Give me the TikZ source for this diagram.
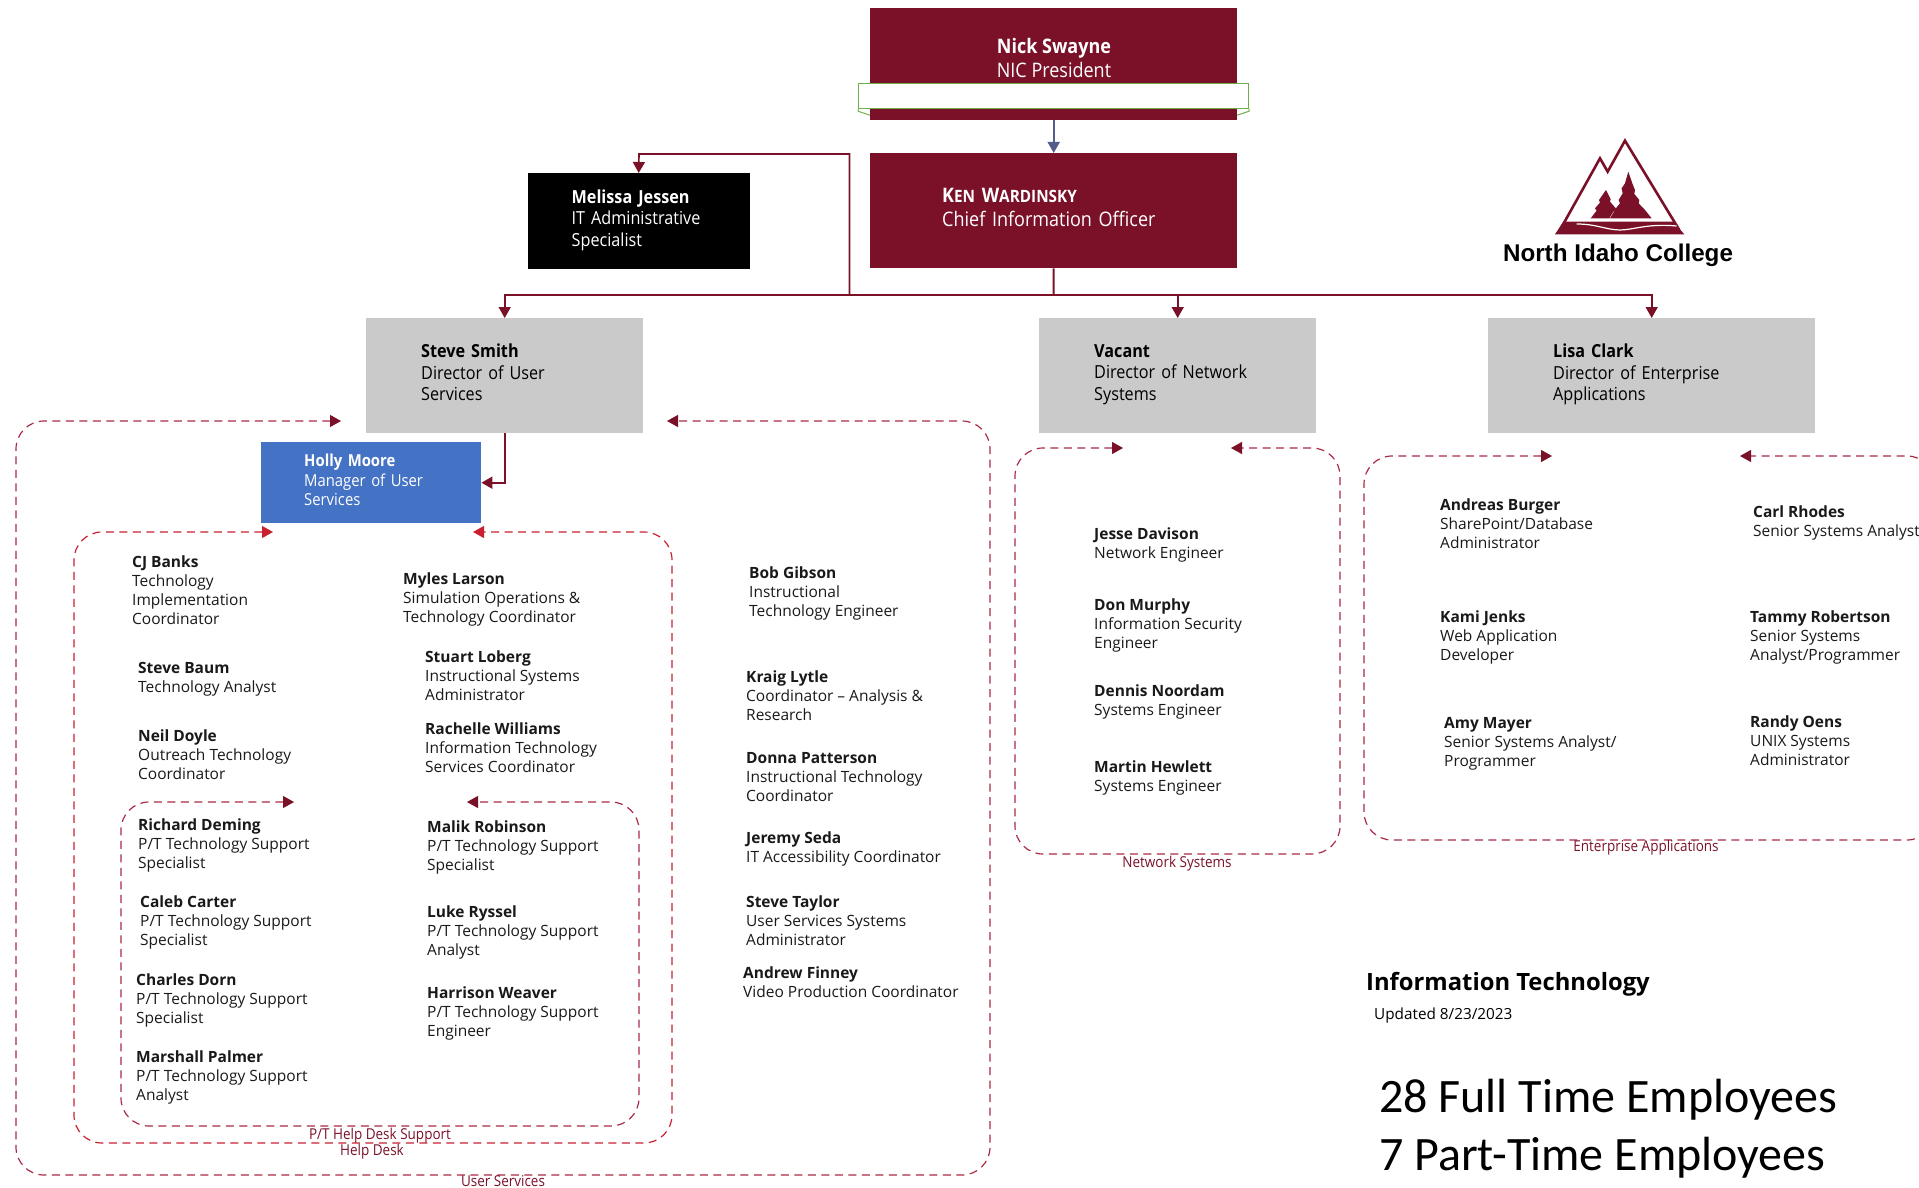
\documentclass[tikz,border=0pt]{standalone}
\usepackage{fontspec}
\setmainfont{Open Sans}
\newfontfamily\leadf{Open Sans}[FakeStretch=0.9]
\newfontfamily\carl{Carlito}
\newfontfamily\arl{Liberation Sans}
\usetikzlibrary{arrows.meta,calc}
\definecolor{nicred}{HTML}{7A1128}
\definecolor{greybox}{HTML}{CACACA}
\definecolor{hollyblue}{HTML}{4472C4}
\definecolor{ribbon}{HTML}{70AD47}
\definecolor{slate}{HTML}{545C8C}
\definecolor{dashA}{HTML}{A82A45}
\definecolor{dashB}{HTML}{C8202F}
\tikzset{
  x=1pt,y=-1pt,
  boxbase/.style={draw=none,minimum height=#1,inner ysep=0pt,align=left,anchor=north west},
  person/.style={anchor=north west,inner sep=0pt,align=left,text=black!90,font=\fontsize{15.5}{18.9}\selectfont},
  lead/.style={font=\leadf\fontsize{18}{21.5}\selectfont},
  top/.style={font=\leadf\fontsize{20}{24}\selectfont},
  conn/.style={draw=nicred,line width=1.6pt},
  tip/.style={-{Triangle[length=11pt,width=12pt]}},
  groupline/.style={line width=1.2pt,dash pattern=on 8pt off 5.5pt,rounded corners=28pt,
     {Triangle[length=11pt,width=12pt,color=#1]}-{Triangle[length=11pt,width=12pt,color=#1]}},
  grouplabel/.style={text=nicred,inner sep=0pt,font=\leadf\fontsize{15}{15}\selectfont},
}
\newcommand{\pp}[5]{\node[person] (#1) at (#2,#3-6) {\textbf{#4}\\#5};}
\begin{document}
\begin{tikzpicture}
\useasboundingbox (0,0) rectangle (1919,1188);
% top boxes
\node[boxbase=112pt,fill=nicred,minimum width=367pt,inner sep=0pt] (nick) at (870,8) {};
\node[draw=ribbon,line width=1.2pt,fill=white,minimum width=390pt,minimum height=25pt,inner sep=0pt,anchor=north west] (band) at (858,83) {};
\draw[ribbon,line width=1pt] (band.south west) -- ++(0,2) -- ++(12,4);
\draw[ribbon,line width=1pt] (band.south east) -- ++(0,2) -- ++(-12,4);
\node[text=white,top,align=left,inner sep=0pt] (nicktext) at (1054,58.5) {\textbf{Nick Swayne}\\NIC President};
\node[boxbase=115pt,fill=nicred,minimum width=367pt,inner xsep=72pt,text width=223pt,text=white,top] (ken) at (870,153)
  {\textbf{K{\fontsize{17}{24}\selectfont EN} W{\fontsize{17}{24}\selectfont ARDINSKY}}\\Chief Information Officer\strut};
\node[boxbase=96pt,fill=black,minimum width=222pt,inner xsep=44pt,text width=134pt,text=white,lead] (melissa) at (527.5,173)
  {\textbf{Melissa Jessen}\\IT Administrative\\Specialist\strut};
\node[boxbase=115pt,fill=greybox,minimum width=277pt,inner xsep=55pt,text width=167pt,lead] (steve) at (366,318)
  {\textbf{Steve Smith}\\Director of User\\Services\strut\\[-18pt]};
\node[boxbase=115pt,fill=greybox,minimum width=277pt,inner xsep=55pt,text width=167pt,lead] (vacant) at (1039,318)
  {\textbf{Vacant}\\Director of Network\\Systems\strut\\[-18pt]};
\node[boxbase=115pt,fill=greybox,minimum width=327pt,inner xsep=65pt,text width=197pt,lead] (lisa) at (1488,318)
  {\textbf{Lisa Clark}\\Director of Enterprise\\Applications\strut\\[-18pt]};
\node[boxbase=81pt,fill=hollyblue,minimum width=220pt,inner xsep=43pt,text width=134pt,text=white,font=\leadf\fontsize{16.5}{19.5}\selectfont] (holly) at (261,442)
  {\textbf{Holly Moore}\\Manager of User\\Services\strut\\[4pt]};
% connectors
\draw[slate,line width=1.6pt,tip] (nick.south) -- (ken.north);
\coordinate (bus) at (1053.5,295);
\coordinate (busm) at (849.5,295);
\draw[conn,line width=2pt] (ken.south) -- (bus);
\draw[conn,tip] (bus) -| (steve.north);
\draw[conn,tip] (bus) -| (vacant.north);
\draw[conn,tip] (bus) -| (lisa.north);
\draw[conn,tip] (busm) |- (639,154) -- (melissa.north);
\draw[conn,tip] (steve.south) |- (holly.east);
% dashed groups
\coordinate (usA) at (341,421); \coordinate (usB) at (667,421);
\draw[groupline=nicred,dashA] (usA) -- (16,421) -- (16,1175) -- (990,1175) -- (990,421) -- (usB);
\coordinate (hdA) at (273,532); \coordinate (hdB) at (473,532);
\draw[groupline=dashB,dashB] (hdA) -- (74,532) -- (74,1143) -- (672,1143) -- (672,532) -- (hdB);
\coordinate (ptA) at (294,802); \coordinate (ptB) at (467,802);
\draw[groupline=nicred,dashA] (ptA) -- (121,802) -- (121,1126) -- (639,1126) -- (639,802) -- (ptB);
\coordinate (nwA) at (1123,448); \coordinate (nwB) at (1231,448);
\draw[groupline=nicred,dashA] (nwA) -- (1015,448) -- (1015,854) -- (1340,854) -- (1340,448) -- (nwB);
\coordinate (eaA) at (1552,456); \coordinate (eaB) at (1740,456);
\draw[groupline=nicred,dashA] (eaA) -- (1364,456) -- (1364,840) -- (1935,840) -- (1935,456) -- (eaB);
\node[grouplabel] (l1) at (380,1136) {P/T Help Desk Support};
\node[grouplabel] (l2) at (372,1152) {Help Desk};
\node[grouplabel] (l3) at (503,1181) {User Services};
\node[grouplabel] (l4) at (1177,864) {Network Systems};
\node[grouplabel] (l5) at (1646,848) {Enterprise Applications};
% people
\pp{cj}{132}{562}{CJ Banks}{Technology\\Implementation\\Coordinator}
\pp{baum}{138}{668}{Steve Baum}{Technology Analyst}
\pp{doyle}{138}{736}{Neil Doyle}{Outreach Technology\\Coordinator}
\pp{deming}{138}{825}{Richard Deming}{P/T Technology Support\\Specialist}
\pp{carter}{140}{902}{Caleb Carter}{P/T Technology Support\\Specialist}
\pp{dorn}{136}{980}{Charles Dorn}{P/T Technology Support\\Specialist}
\pp{palmer}{136}{1057}{Marshall Palmer}{P/T Technology Support\\Analyst}
\pp{larson}{403}{579}{Myles Larson}{Simulation Operations \&\\Technology Coordinator}
\pp{loberg}{425}{657}{Stuart Loberg}{Instructional Systems\\Administrator}
\pp{williams}{425}{729}{Rachelle Williams}{Information Technology\\Services Coordinator}
\pp{robinson}{427}{827}{Malik Robinson}{P/T Technology Support\\Specialist}
\pp{ryssel}{427}{912}{Luke Ryssel}{P/T Technology Support\\Analyst}
\pp{weaver}{427}{993}{Harrison Weaver}{P/T Technology Support\\Engineer}
\pp{gibson}{749}{573}{Bob Gibson}{Instructional\\Technology Engineer}
\pp{lytle}{746}{677}{Kraig Lytle}{Coordinator -- Analysis \&\\Research}
\pp{patterson}{746}{758}{Donna Patterson}{Instructional Technology\\Coordinator}
\pp{seda}{746}{838}{Jeremy Seda}{IT Accessibility Coordinator}
\pp{taylor}{746}{902}{Steve Taylor}{User Services Systems\\Administrator}
\pp{finney}{743}{973}{Andrew Finney}{Video Production Coordinator}
\pp{davison}{1094}{534}{Jesse Davison}{Network Engineer}
\pp{murphy}{1094}{605}{Don Murphy}{Information Security\\Engineer}
\pp{noordam}{1094}{691}{Dennis Noordam}{Systems Engineer}
\pp{hewlett}{1094}{767}{Martin Hewlett}{Systems Engineer}
\pp{burger}{1440}{505}{Andreas Burger}{SharePoint/Database\\Administrator}
\pp{jenks}{1440}{617}{Kami Jenks}{Web Application\\Developer}
\pp{mayer}{1444}{723}{Amy Mayer}{Senior Systems Analyst/\\Programmer}
\pp{rhodes}{1753}{512}{Carl Rhodes}{Senior Systems Analyst}
\pp{robertson}{1750}{617}{Tammy Robertson}{Senior Systems\\Analyst/Programmer}
\pp{oens}{1750}{722}{Randy Oens}{UNIX Systems\\Administrator}
% footer text
\node[anchor=west,inner sep=0pt,font=\fontsize{23.8}{26}\selectfont\bfseries] (it) at (1366,984) {Information Technology};
\node[anchor=west,inner sep=0pt,font=\fontsize{15.3}{18}\selectfont] (upd) at (1374,1015.5) {Updated 8/23/2023};
\node[anchor=west,inner sep=0pt,font=\fontsize{48}{50}\selectfont\carl] (ft) at (1379,1099.5) {28 Full Time Employees};
\node[anchor=west,inner sep=0pt,font=\fontsize{48}{50}\selectfont\carl] (pt) at (1379,1157.5) {7 Part-Time Employees};
% logo
\begin{scope}[shift={(1400,120)},x=0.3333pt,y=-0.3333pt]
\draw[nicred,line width=2.6pt,line join=miter,fill=white] (480,330) -- (600,115) -- (623,155) -- (675,62) -- (838,330);
\fill[nicred] (465,343) -- (490,305) -- (820,305) -- (853,343) -- cycle;
\draw[white,line width=1.2pt] (530,312) .. controls (590,312) and (620,330) .. (660,330) .. controls (700,330) and (740,310) .. (830,318);
\fill[nicred] (572,295) -- (590,272) -- (585,265) -- (600,248) -- (597,240) -- (618,210) -- (632,238) -- (630,245) -- (650,268) -- (640,275) -- (628,295) -- cycle;
\fill[nicred] (630,295) -- (650,262) -- (660,250) -- (656,240) -- (668,220) -- (665,205) -- (675,190) -- (685,155) -- (697,190) -- (705,210) -- (703,222) -- (718,240) -- (716,250) -- (735,270) -- (755,295) -- cycle;
\end{scope}
\node[anchor=center,inner sep=0pt,font=\fontsize{24.2}{28}\selectfont\arl\bfseries] (nic) at (1618,255) {North Idaho College};
\end{tikzpicture}
\end{document}
